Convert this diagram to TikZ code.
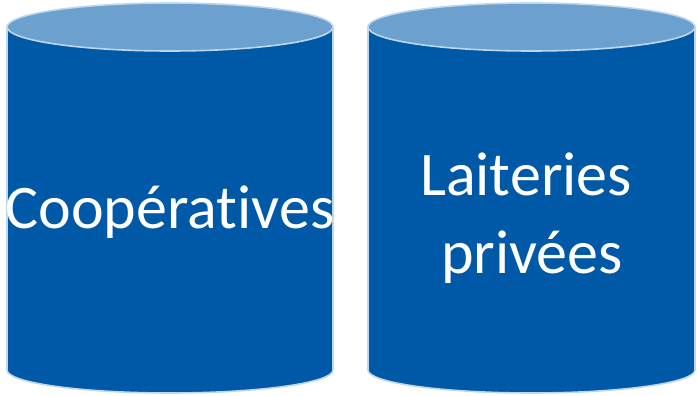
\documentclass[tikz,border=0pt]{standalone}
\usepackage{fontspec}
\setmainfont{Carlito}[Ligatures=NoCommon]
\definecolor{bodyblue}{RGB}{0,89,166}
\definecolor{topblue}{RGB}{108,160,206}
\definecolor{rimblue}{RGB}{189,215,238}
\tikzset{
  cylbody/.style={fill=bodyblue, draw=rimblue, line width=1.6pt},
  cyltop/.style={fill=topblue, draw=rimblue, line width=1.6pt},
  cyltext/.style={text=white, inner sep=0pt, anchor=base}
}
\begin{document}
\begin{tikzpicture}[x=1pt,y=-1pt]
\useasboundingbox (0,0) rectangle (697,396);
% left cylinder
\path[cylbody] (7,27) -- (7,370) arc[start angle=180, end angle=0, x radius=163, y radius=23] -- (333,27) -- cycle;
\path[cyltop] (170,27) ellipse[x radius=163, y radius=24];
% right cylinder
\path[cylbody] (368,27) -- (368,370) arc[start angle=180, end angle=0, x radius=163.5, y radius=23] -- (695,27) -- cycle;
\path[cyltop] (531.5,27) ellipse[x radius=163.5, y radius=24];
% texts
\node[cyltext, font=\fontsize{62}{76}\selectfont] (coop) at (170,228) {Coopératives};
\node[cyltext, font=\fontsize{62}{76}\selectfont] (lait) at (526,195) {Laiteries};
\node[cyltext, font=\fontsize{62}{76}\selectfont] (priv) at (532,273) {privées};
\end{tikzpicture}
\end{document}
